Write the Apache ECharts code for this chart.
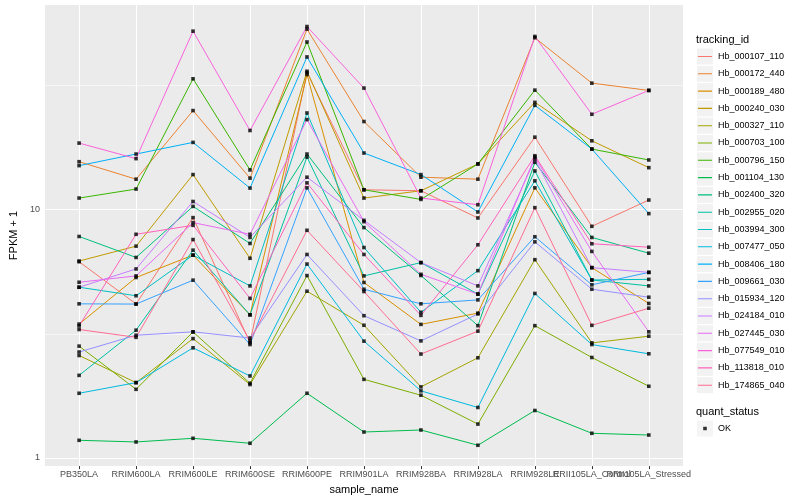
<!DOCTYPE html>
<html><head><meta charset="utf-8">
<script src="https://cdn.jsdelivr.net/npm/echarts@6/dist/echarts.min.js"></script>
<style>html,body{margin:0;padding:0;background:#fff}#c{width:800px;height:500px}</style>
</head><body><div id="c"></div>
<script>
const categories = ['PB350LA','RRIM600LA','RRIM600LE','RRIM600SE','RRIM600PE','RRIM901LA','RRIM928BA','RRIM928LA','RRIM928LE','RRII105LA_Control','RRII105LA_Stressed'];
const trackingIds = ['Hb_000107_110','Hb_000172_440','Hb_000189_480','Hb_000240_030','Hb_000327_110','Hb_000703_100','Hb_000796_150','Hb_001104_130','Hb_002400_320','Hb_002955_020','Hb_003994_300','Hb_007477_050','Hb_008406_180','Hb_009661_030','Hb_015934_120','Hb_024184_010','Hb_027445_030','Hb_077549_010','Hb_113818_010','Hb_174865_040'];
const seriesColors = ['#F8766D','#EA8331','#D89000','#C09B00','#A3A500','#7CAE00','#39B600','#00BB4E','#00BF7D','#00C1A3','#00BFC4','#00BAE0','#00B0F6','#35A2FF','#9590FF','#C77CFF','#E76BF3','#FA62DB','#FF62BC','#FF6C91'];
const yTickLabels = [1, 10];
const yMinorBreaks = [3.1623, 31.623];
const quantStatus = ['OK'];

// FPKM + 1 values, one per sample_name
const Hb_000107_110 = [6.17, 4.17, 9.29, 2.91, 35.7, 12.03, 11.92, 9.26, 19.6, 8.57, 10.94];
const Hb_000172_440 = [15.61, 13.27, 25.08, 13.4, 53.4, 22.66, 13.52, 13.27, 49.3, 32.35, 30.24];
const Hb_000189_480 = [3.46, 5.33, 6.56, 3.77, 35.05, 5.09, 3.45, 3.83, 12.25, 5.84, 4.19];
const Hb_000240_030 = [6.21, 7.13, 13.85, 6.37, 36.13, 11.14, 11.92, 15.29, 27.07, 18.95, 14.77];
const Hb_000327_110 = [2.585, 2.01, 3.024, 1.974, 4.694, 3.422, 1.932, 2.531, 6.29, 2.906, 3.092];
const Hb_000703_100 = [2.82, 1.889, 3.217, 1.998, 5.426, 2.072, 1.788, 1.368, 3.41, 2.538, 1.943];
const Hb_000796_150 = [11.14, 12.11, 33.69, 14.46, 47.4, 12.03, 11.0, 15.29, 30.32, 17.55, 15.86];
const Hb_001104_130 = [1.177, 1.159, 1.199, 1.145, 1.821, 1.271, 1.295, 1.124, 1.552, 1.256, 1.236];
const Hb_002400_320 = [7.80, 6.42, 10.31, 7.31, 16.76, 8.47, 5.43, 3.41, 15.52, 7.73, 6.68];
const Hb_002955_020 = [2.15, 3.27, 6.87, 3.77, 16.30, 5.41, 6.12, 4.57, 14.33, 5.21, 4.93];
const Hb_003994_300 = [4.87, 4.50, 6.56, 4.93, 24.53, 7.04, 3.86, 5.68, 13.07, 5.21, 5.24];
const Hb_007477_050 = [1.821, 2.01, 2.776, 2.138, 6.039, 2.953, 1.862, 1.596, 4.597, 2.861, 2.626];
const Hb_008406_180 = [15.05, 16.76, 18.67, 12.22, 41.26, 16.92, 13.85, 9.79, 26.33, 17.55, 9.64];
const Hb_009661_030 = [4.175, 4.165, 5.20, 2.861, 12.25, 4.78, 4.175, 4.33, 7.78, 4.98, 5.59];
const Hb_015934_120 = [2.67, 3.12, 3.22, 3.04, 6.60, 3.74, 2.96, 3.80, 7.42, 4.78, 4.44];
const Hb_024184_010 = [4.87, 5.77, 10.79, 7.73, 13.52, 9.06, 6.12, 4.93, 16.0, 5.84, 5.59];
const Hb_027445_030 = [5.10, 5.41, 8.87, 7.96, 23.08, 8.95, 5.49, 4.57, 16.30, 6.79, 3.22];
const Hb_077549_010 = [18.55, 16.06, 52.4, 20.85, 54.7, 30.9, 11.14, 10.47, 49.9, 24.24, 30.24];
const Hb_113818_010 = [3.40, 7.96, 8.65, 4.39, 12.83, 6.60, 3.75, 7.22, 16.50, 7.29, 7.06];
const Hb_174865_040 = [3.29, 3.06, 7.58, 2.96, 8.26, 4.68, 2.62, 3.24, 10.19, 3.42, 4.01];

const seriesValues = [Hb_000107_110, Hb_000172_440, Hb_000189_480, Hb_000240_030, Hb_000327_110, Hb_000703_100, Hb_000796_150, Hb_001104_130, Hb_002400_320, Hb_002955_020, Hb_003994_300, Hb_007477_050, Hb_008406_180, Hb_009661_030, Hb_015934_120, Hb_024184_010, Hb_027445_030, Hb_077549_010, Hb_113818_010, Hb_174865_040];

const FONT = '"Liberation Sans", Arial, Helvetica, sans-serif';
const xIdx = categories.map((c, i) => i);
const xEven = xIdx.filter(i => i % 2 === 0);
const xOdd = xIdx.filter(i => i % 2 === 1);

const gridLines = [];
xIdx.forEach(i => gridLines.push({xAxis: i, lineStyle: {color: '#FFFFFF', width: 1.1, type: 'solid'}}));
yTickLabels.forEach(v => gridLines.push({yAxis: v, lineStyle: {color: '#FFFFFF', width: 1.1, type: 'solid'}}));
yMinorBreaks.forEach(v => gridLines.push({yAxis: v, lineStyle: {color: '#FFFFFF', width: 0.55, type: 'solid'}}));

const series = [{
  name: '_grid', type: 'line', data: [], z: 1, silent: true, animation: false,
  markLine: {z: 1, symbol: ['none', 'none'], silent: true, animation: false, label: {show: false}, emphasis: {disabled: true}, data: gridLines}
}];
trackingIds.forEach((id, k) => {
  series.push({
    name: id, type: 'line', z: 2, animation: false, symbol: 'none', showSymbol: false,
    color: seriesColors[k],
    itemStyle: {color: seriesColors[k]},
    lineStyle: {color: seriesColors[k], width: 1},
    data: seriesValues[k].map((v, i) => [i, v])
  });
});
const pts = [];
seriesValues.forEach(arr => arr.forEach((v, i) => pts.push([i, v])));
series.push({name: 'OK', type: 'scatter', z: 3, animation: false, symbol: 'rect', symbolSize: [3.6, 3.6], itemStyle: {color: '#000000'}, data: pts});

const keyCommon = {orient: 'vertical', left: 697, itemWidth: 16, itemHeight: 16, itemGap: 1.3, padding: 0, selectedMode: false};
const lineIcon = 'path://M0,0L0,0Z M16,16L16,16Z M1,7.45L15,7.45L15,8.55L1,8.55Z';
const dotIcon = 'path://M0,0L0,0Z M16,16L16,16Z M6.2,6.2L9.8,6.2L9.8,9.8L6.2,9.8Z';

function xAxisFor(values, withName) {
  const ax = {
    type: 'value', min: -0.6, max: 10.6, position: 'bottom', gridIndex: 0,
    axisLine: {show: false}, splitLine: {show: false},
    axisTick: {show: true, length: 3, lineStyle: {color: '#333333', width: 1}, customValues: values},
    axisLabel: {customValues: values, hideOverlap: false, formatter: v => categories[Math.round(v)], fontSize: 9, color: '#4D4D4D', margin: 4, fontFamily: FONT}
  };
  if (withName) {
    ax.name = 'sample_name'; ax.nameLocation = 'middle'; ax.nameGap = 13;
    ax.nameTextStyle = {fontSize: 11, color: '#000', fontFamily: FONT, verticalAlign: 'top'};
  }
  return ax;
}

const option = {
  backgroundColor: '#FFFFFF',
  animation: false,
  textStyle: {fontFamily: FONT},
  title: [
    {text: 'tracking_id', left: 696, top: 34, padding: 0, textStyle: {fontSize: 11, fontWeight: 'normal', color: '#000', fontFamily: FONT}},
    {text: 'quant_status', left: 696, top: 406, padding: 0, textStyle: {fontSize: 11, fontWeight: 'normal', color: '#000', fontFamily: FONT}}
  ],
  legend: [
    Object.assign({}, keyCommon, {top: 48.5, z: 4, data: trackingIds, icon: 'rect', itemStyle: {color: '#F2F2F2', borderWidth: 0}, lineStyle: {width: 0, opacity: 0}, formatter: () => '', textStyle: {fontSize: 9}}),
    Object.assign({}, keyCommon, {top: 48.5, z: 5, data: trackingIds, icon: lineIcon, itemStyle: {borderWidth: 0}, textStyle: {fontSize: 9, color: '#000', fontFamily: FONT}}),
    Object.assign({}, keyCommon, {top: 420.5, z: 4, data: quantStatus, icon: 'rect', itemStyle: {color: '#F2F2F2', borderWidth: 0}, formatter: () => '', textStyle: {fontSize: 9}}),
    Object.assign({}, keyCommon, {top: 420.5, z: 5, data: quantStatus, icon: dotIcon, itemStyle: {color: '#000', borderWidth: 0}, textStyle: {fontSize: 9, color: '#000', fontFamily: FONT}})
  ],
  grid: {left: 35, right: 117, top: 5, bottom: 31, show: true, backgroundColor: '#EBEBEB', borderWidth: 0, containLabel: false},
  xAxis: [xAxisFor(xEven, true), xAxisFor(xOdd, false)],
  yAxis: {
    type: 'log', logBase: 10, min: 0.9264, max: 66.8,
    axisLine: {show: false}, splitLine: {show: false}, minorSplitLine: {show: false},
    axisTick: {show: true, length: 3, lineStyle: {color: '#333333', width: 1}, customValues: yTickLabels},
    axisLabel: {customValues: yTickLabels, hideOverlap: false, formatter: v => String(Math.round(v)), fontSize: 9, color: '#4D4D4D', margin: 5, fontFamily: FONT},
    name: 'FPKM + 1', nameLocation: 'middle', nameGap: 17,
    nameTextStyle: {fontSize: 11, color: '#000', fontFamily: FONT}
  },
  series: series
};
const chart = echarts.init(document.getElementById('c'), null, {renderer: 'canvas'});
chart.setOption(option);
</script>
</body></html>
